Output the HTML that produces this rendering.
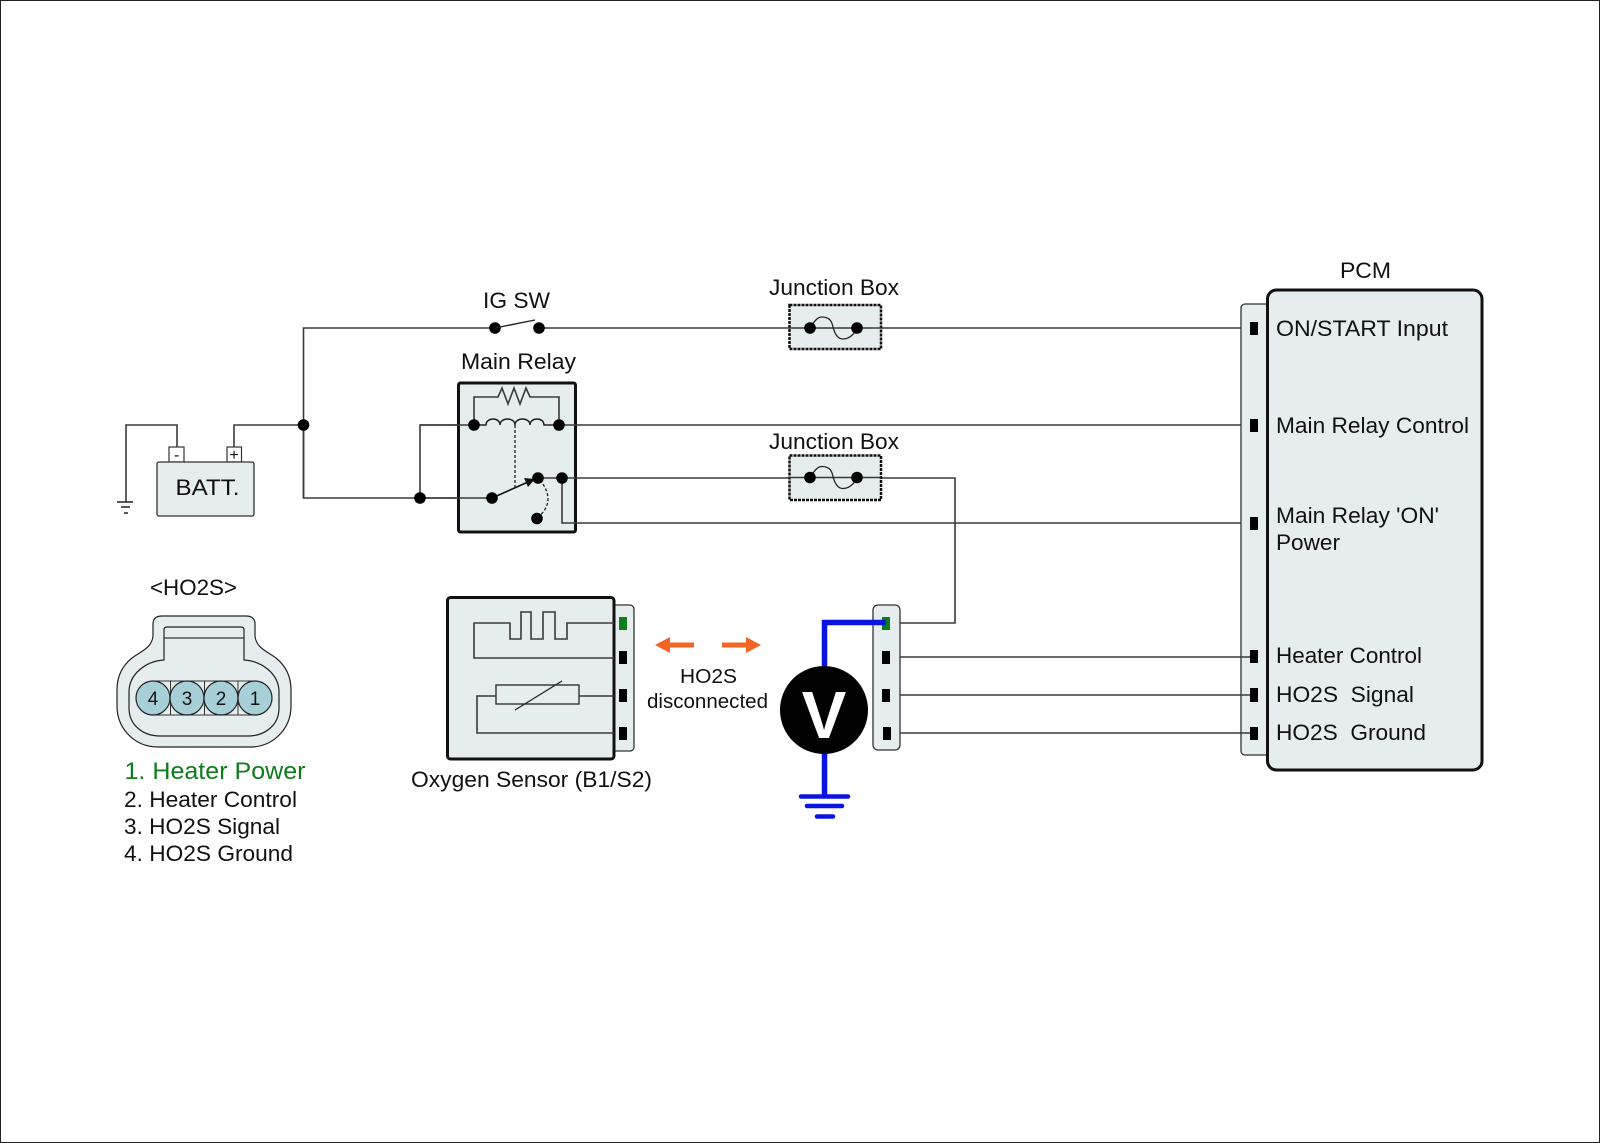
<!DOCTYPE html>
<html><head><meta charset="utf-8"><style>
html,body{margin:0;padding:0;background:#fff}
svg{display:block}
text{font-family:"Liberation Sans",sans-serif;font-size:22.5px;fill:#111}
.w{fill:none;stroke:#3a3a3a;stroke-width:1.6}
.b{fill:#e5edee;stroke:#111;stroke-width:3}
.s{fill:#e5edee;stroke:#333;stroke-width:1.3}
.t{fill:none;stroke:#222;stroke-width:1.5}
</style></head><body>
<svg width="1600" height="1143" viewBox="0 0 1600 1143" xmlns="http://www.w3.org/2000/svg">
<rect x="0.5" y="0.5" width="1599" height="1142" fill="#fff" stroke="#222" stroke-width="1"/>

<!-- wires -->
<path class="w" d="M177 447V425H126V502"/>
<path class="w" d="M234 447V425H303.5"/>
<path class="w" d="M303.5 498V328H495"/>
<path class="w" d="M303.5 425V498H492"/>
<path class="w" d="M539 328H1250"/>
<path class="w" d="M420 498V425H474"/>
<path class="t" d="M117 502H133M121 507H130M124 513H128" stroke-width="1.3"/>

<!-- Relay -->
<rect class="b" x="458.500" y="383" width="117" height="149" rx="2"/>
<path class="w" d="M420 425H474M559 425H1250"/>
<path class="w" d="M538 478H955V623H886"/>
<path class="w" d="M562 478V523H1250"/>
<path class="w" d="M420 498H492"/>
<path class="w" d="M474 425V397H498L502 388L508 404L514 388L520 404L526 388L530 397H559V425"/>
<path class="t" d="M474 425H486C486 417 500 417 500 425C500 417 515 417 515 425C515 417 530 417 530 425C530 417 544 417 544 425H559"/>
<path d="M515 425V488" fill="none" stroke="#222" stroke-width="1.3" stroke-dasharray="3 2"/>
<path d="M540 480C552 495 550 508 537 518" fill="none" stroke="#222" stroke-width="1.3" stroke-dasharray="3 2"/>
<path d="M492 498L528 482" stroke="#111" stroke-width="1.6"/>
<path d="M535 479L524 478L528 487Z" fill="#111"/>
<g fill="#000">
<circle cx="303.500" cy="425" r="5.800"/><circle cx="420" cy="498" r="5.800"/>
<circle cx="474" cy="425" r="5.800"/><circle cx="559" cy="425" r="5.800"/>
<circle cx="492" cy="498" r="5.800"/><circle cx="538" cy="478" r="5.800"/>
<circle cx="562" cy="478" r="5.800"/><circle cx="537" cy="518.500" r="5.800"/>
<circle cx="495" cy="328" r="5.800"/><circle cx="539" cy="328" r="5.800"/>
</g>
<path d="M495 328L535 320" stroke="#222" stroke-width="1.4"/>

<!-- Battery -->
<rect x="169" y="447" width="15" height="15" fill="#fff" stroke="#333" stroke-width="1.2"/>
<rect x="227" y="447" width="14.500" height="15" fill="#fff" stroke="#333" stroke-width="1.2"/>
<text x="176.500" y="460" text-anchor="middle" style="font-size:16px">-</text>
<text x="234" y="460" text-anchor="middle" style="font-size:16px">+</text>
<rect class="s" x="157" y="462" width="97" height="54" rx="2"/>
<text x="175.500" y="495" textLength="64" lengthAdjust="spacingAndGlyphs">BATT.</text>

<!-- Junction boxes -->
<g>
<rect x="789.500" y="305" width="91.500" height="44" fill="#e5edee" stroke="#111" stroke-width="2.500" stroke-dasharray="3 1"/>
<path d="M789 328H881" class="w"/>
<path d="M810 328C815 320 818 317 822 317C830 317 832 322 833 327C835 335 838 339 843 339C850 339 855 333 857 328" fill="none" stroke="#222" stroke-width="1.3"/>
<circle cx="810" cy="328" r="5.800"/><circle cx="857" cy="328" r="5.800"/>
</g>
<g>
<rect x="789.500" y="455.500" width="91.500" height="44.500" fill="#e5edee" stroke="#111" stroke-width="2.500" stroke-dasharray="3 1"/>
<path d="M789 477.500H881" class="w"/>
<path d="M810 477.500C815 469.500 818 466.500 822 466.500C830 466.500 832 471.500 833 476.500C835 484.500 838 488.500 843 488.500C850 488.500 855 482.500 857 477.500" fill="none" stroke="#222" stroke-width="1.3"/>
<circle cx="810" cy="477.500" r="5.800"/><circle cx="857" cy="477.500" r="5.800"/>
</g>

<!-- PCM -->
<rect class="s" x="1241" y="304" width="40" height="451" rx="4"/>
<rect class="b" x="1267.500" y="290" width="214.500" height="480" rx="9"/>
<g fill="#000">
<rect x="1250" y="322" width="8" height="13"/><rect x="1250" y="419" width="8" height="13"/>
<rect x="1250" y="517" width="8" height="13"/><rect x="1250" y="650" width="8" height="13"/>
<rect x="1250" y="688" width="8" height="14"/><rect x="1250" y="727" width="8" height="13"/>
</g>
<path class="w" d="M886 657H1250M886 695H1250M886 733H1250"/>

<!-- Sensor -->
<rect class="s" x="600" y="605" width="34" height="146" rx="4"/>
<rect class="b" x="447.500" y="597.500" width="166.500" height="161.500" rx="3"/>
<path class="w" d="M614 623H567V639H555V612H543V639H531V612H521V639H510V623H474V658H614"/>
<rect x="496" y="685" width="83" height="19" fill="none" stroke="#333" stroke-width="1.4"/>
<path class="w" d="M579 696H614M496 696H477V733H614" stroke-width="1.3"/>
<path d="M515 710L562 681" stroke="#222" stroke-width="1.3"/>
<rect x="619" y="617" width="8" height="13" fill="#0e7d1c"/>
<g fill="#000"><rect x="619" y="651" width="8" height="13"/><rect x="619" y="689" width="8" height="13"/><rect x="619" y="727" width="8" height="13"/></g>

<!-- orange arrows -->
<path d="M655 645L670 637V642.500H694V647.500H670V653Z" fill="#f26522"/>
<path d="M761 645L746 637V642.500H722V647.500H746V653Z" fill="#f26522"/>

<!-- Right connector + meter -->
<rect class="s" x="873" y="605" width="27" height="145" rx="5"/>
<rect x="882" y="617" width="8" height="13" fill="#0e7d1c"/>
<g fill="#000"><rect x="882" y="651" width="8" height="13"/><rect x="882" y="689" width="8" height="13"/><rect x="883" y="727" width="8" height="13"/></g>
<path d="M886 622.500H824.500V797" fill="none" stroke="#0a14e0" stroke-width="5.500"/>
<path d="M801 796.500H848M807 806H842M817 816.500H833" stroke="#0a14e0" stroke-width="4.500" stroke-linecap="round"/>
<circle cx="824" cy="710" r="44" fill="#000"/>
<text x="824" y="738" text-anchor="middle" style="font-size:67px;font-weight:bold;fill:#fff">V</text>

<!-- HO2S connector -->
<path d="M153 624Q153 616 162 616H246Q255 616 255 624V636C256 648 268 652 276 658C286 666 291 676 291 690V706C291 728 274 747 250 747H158C134 747 117 728 117 706V690C117 676 122 666 132 658C140 652 152 648 153 636Z" fill="#e5edee" stroke="#222" stroke-width="1.2"/>
<path d="M164 660V630Q164 627 167 627H241Q244 627 244 630V660C262 661 279 674 279 692V708C279 726 264 736 248 736H160C144 736 129 726 129 708V692C129 674 146 661 164 660Z" fill="#e5edee" stroke="#222" stroke-width="1.2"/>
<path d="M164 638H244" stroke="#333" stroke-width="1.2"/>
<rect x="153" y="681" width="102" height="34" fill="#e5edee" stroke="#333" stroke-width="1"/>
<path d="M170.500 681V715M204.500 681V715M238 681V715" stroke="#333" stroke-width="1"/>
<g fill="#a6cfd8" stroke="#222" stroke-width="1.2">
<circle cx="153" cy="698" r="17"/><circle cx="187" cy="698" r="17"/><circle cx="221" cy="698" r="17"/><circle cx="255" cy="698" r="17"/>
</g>
<g text-anchor="middle">
<text x="153" y="705" style="font-size:19px">4</text><text x="187" y="705" style="font-size:19px">3</text><text x="221" y="705" style="font-size:19px">2</text><text x="255" y="705" style="font-size:19px">1</text>
</g>

<!-- labels -->
<text x="483" y="308" textLength="67" lengthAdjust="spacingAndGlyphs">IG SW</text>
<text x="769" y="295" textLength="130" lengthAdjust="spacingAndGlyphs">Junction Box</text>
<text x="769" y="449" textLength="130" lengthAdjust="spacingAndGlyphs">Junction Box</text>
<text x="461" y="369" textLength="115" lengthAdjust="spacingAndGlyphs">Main Relay</text>
<text x="1340" y="278" textLength="51" lengthAdjust="spacingAndGlyphs">PCM</text>
<text x="1276" y="336" textLength="172" lengthAdjust="spacingAndGlyphs">ON/START Input</text>
<text x="1276" y="433" textLength="193" lengthAdjust="spacingAndGlyphs">Main Relay Control</text>
<text x="1276" y="523" textLength="163" lengthAdjust="spacingAndGlyphs">Main Relay 'ON'</text>
<text x="1276" y="550" textLength="64" lengthAdjust="spacingAndGlyphs">Power</text>
<text x="1276" y="663" textLength="146" lengthAdjust="spacingAndGlyphs">Heater Control</text>
<text x="1276" y="702" textLength="138" lengthAdjust="spacingAndGlyphs" xml:space="preserve">HO2S  Signal</text>
<text x="1276" y="740" textLength="150" lengthAdjust="spacingAndGlyphs" xml:space="preserve">HO2S  Ground</text>
<text x="150" y="595" textLength="87" lengthAdjust="spacingAndGlyphs">&lt;HO2S&gt;</text>
<text x="124.500" y="779" textLength="181" lengthAdjust="spacingAndGlyphs" style="fill:#0e7d1c;font-size:24px">1. Heater Power</text>
<text x="124" y="807" textLength="173" lengthAdjust="spacingAndGlyphs">2. Heater Control</text>
<text x="124" y="834" textLength="156" lengthAdjust="spacingAndGlyphs">3. HO2S Signal</text>
<text x="124" y="861" textLength="169" lengthAdjust="spacingAndGlyphs">4. HO2S Ground</text>
<text x="411" y="787" textLength="241" lengthAdjust="spacingAndGlyphs">Oxygen Sensor (B1/S2)</text>
<text x="680" y="683" textLength="57" lengthAdjust="spacingAndGlyphs" style="font-size:20.500px">HO2S</text>
<text x="647" y="708" textLength="121" lengthAdjust="spacingAndGlyphs" style="font-size:20.500px">disconnected</text>
</svg>
</body></html>
